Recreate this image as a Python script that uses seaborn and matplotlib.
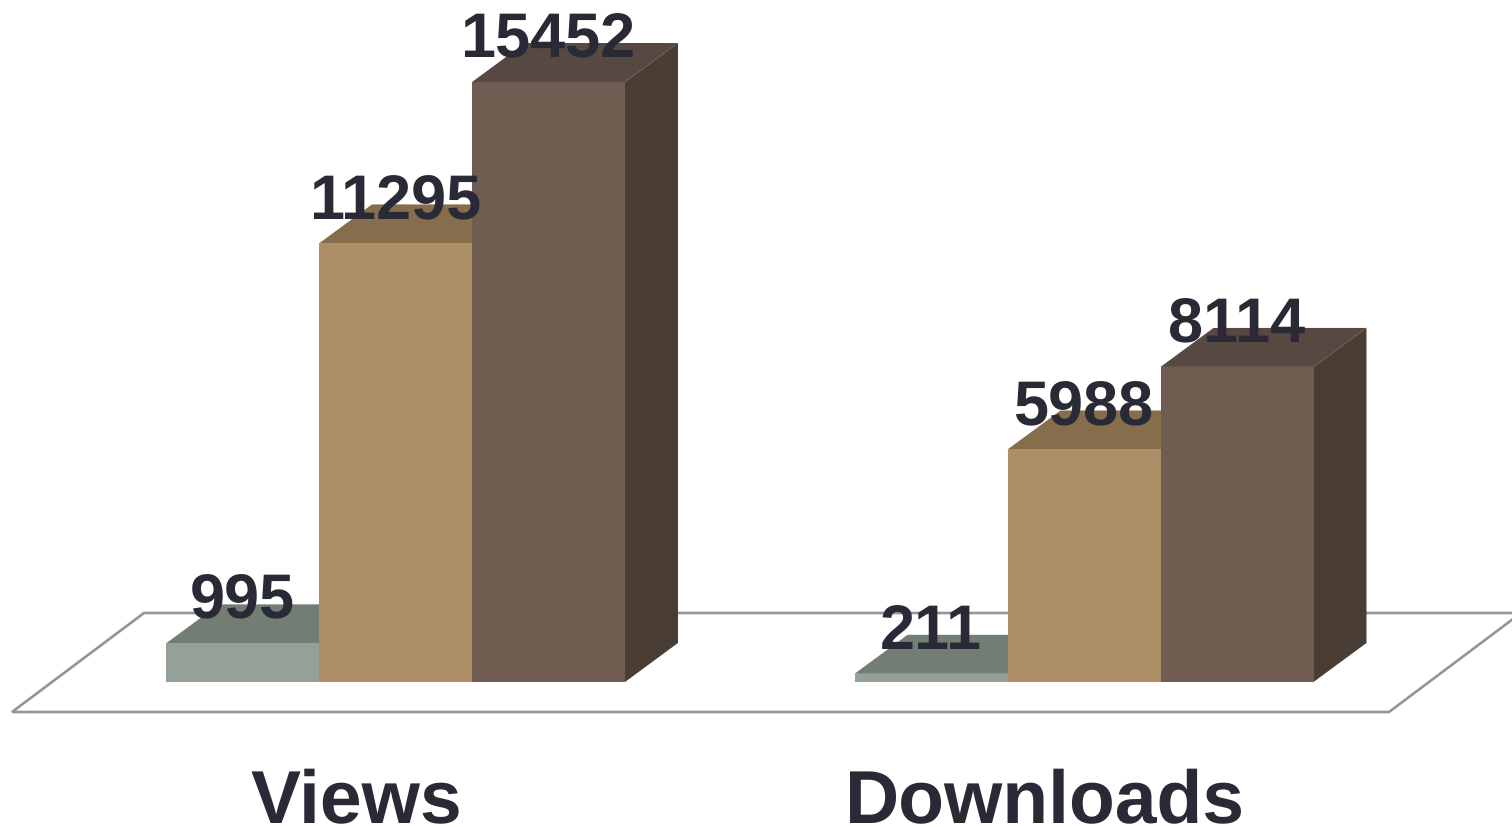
from __future__ import annotations

import matplotlib
matplotlib.use("Agg")
import matplotlib.pyplot as plt
import pandas as pd
import seaborn as sns
from matplotlib.patches import Polygon

# values
categories = ["Views", "Downloads"]
series_names = ["A", "B", "C"]
series_a = [995, 211]
series_b = [11295, 5988]
series_c = [15452, 8114]

front_colors = ["#95a097", "#ad8f67", "#705d52"]
top_colors = ["#727d73", "#866d4c", "#574941"]
side_colors = ["#5b645c", "#6b573c", "#4a3e34"]
text_color = "#2a2a36"
floor_color = "#959595"

# picture geometry, in pixels
W, H = 1512, 828
BASE_PX = 682
GROUP_LEFT_PX = 395.5
GROUP_STEP_PX = 688.5
PX_PER_UNIT = 600 / 15452
DEPTH_X, DEPTH_Y = 53, 39


def px(x_px: float, y_px: float) -> tuple[float, float]:
    return (x_px - GROUP_LEFT_PX) / GROUP_STEP_PX, (BASE_PX - y_px) / PX_PER_UNIT


df = pd.DataFrame(
    {
        "category": categories * 3,
        "series": [s for s in series_names for _ in categories],
        "value": series_a + series_b + series_c,
    }
)

sns.set_theme(style="white")
plt.rcParams["font.family"] = ["Liberation Sans", "DejaVu Sans"]
plt.rcParams["text.hinting"] = "no_hinting"
plt.rcParams["text.hinting_factor"] = 1

fig = plt.figure(figsize=(W / 100, H / 100), dpi=100)
ax = fig.add_axes([0, 0, 1, 1])

sns.barplot(
    data=df,
    x="category",
    y="value",
    hue="series",
    order=categories,
    hue_order=series_names,
    palette=front_colors,
    saturation=1,
    width=459 / GROUP_STEP_PX,
    gap=0,
    linewidth=0,
    legend=False,
    ax=ax,
)

ax.set_xlim(px(0, 0)[0], px(W, 0)[0])
# one pixel down, the renderer snaps the bar edges upward
ax.set_ylim(px(0, H - 1)[1], px(0, -1)[1])
ax.set_axis_off()

# floor plate
ax.add_patch(
    Polygon(
        [px(12, 712), px(1389, 712), px(1521, 613), px(144, 613)],
        closed=True,
        facecolor="white",
        edgecolor=floor_color,
        linewidth=1.9,
        joinstyle="miter",
        zorder=1,
    )
)

dx = DEPTH_X / GROUP_STEP_PX
dy = DEPTH_Y / PX_PER_UNIT

# fake 3D faces, built from the bars seaborn placed
for i, container in enumerate(ax.containers):
    for bar in container:
        x0, x1 = bar.get_x(), bar.get_x() + bar.get_width()
        h = bar.get_height()
        bar.set_zorder(3 + 2 * i)
        ax.add_patch(
            Polygon(
                [(x0, h), (x1, h), (x1 + dx, h + dy), (x0 + dx, h + dy)],
                facecolor=top_colors[i],
                edgecolor="none",
                zorder=2 + 2 * i,
            )
        )
        ax.add_patch(
            Polygon(
                [(x1, 0), (x1 + dx, dy), (x1 + dx, h + dy), (x1, h)],
                facecolor=side_colors[i],
                edgecolor="none",
                zorder=2 + 2 * i,
            )
        )
        ax.text(
            (x0 + x1) / 2 - 0.5 / GROUP_STEP_PX,
            h + 25.5 / PX_PER_UNIT,
            f"{h:.0f}",
            ha="center",
            va="baseline",
            fontsize=45.5,
            fontweight="bold",
            color=text_color,
            zorder=20,
        )

for i, name in enumerate(categories):
    ax.text(
        i - 39.5 / GROUP_STEP_PX,
        px(0, 822)[1],
        name,
        ha="center",
        va="baseline",
        fontsize=53.7,
        fontweight="bold",
        color=text_color,
        zorder=20,
    )

fig.savefig("out.png", dpi=100)
plt.close(fig)
